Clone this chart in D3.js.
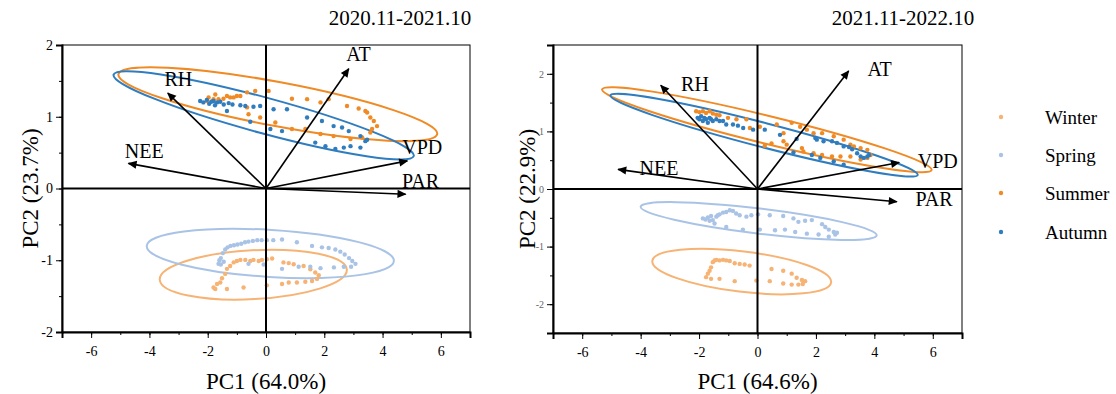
<!DOCTYPE html>
<html><head><meta charset="utf-8">
<script src="https://cdn.jsdelivr.net/npm/d3@7"></script>
<style>body{margin:0;background:#fff}svg{display:block}text{font-family:"Liberation Serif","Times New Roman",serif}</style>
</head><body><svg id="c" width="1116" height="394"></svg>
<script>
const seasons = ["Winter","Spring","Summer","Autumn"];
const seasonColors = ["#f6b374","#a9c3e6","#f08a24","#2f7dbf"];
const variables = ["NEE","RH","AT","VPD","PAR"];
const titles = ["2020.11-2021.10","2021.11-2022.10"];
const xLabels = ["PC1 (64.0%)","PC1 (64.6%)"];
const yLabels = ["PC2 (23.7%)","PC2 (22.9%)"];
const xTicks = [-6,-4,-2,0,2,4,6];
const yTicks1 = [-2,-1,0,1,2];
const yTicks2 = [-2,-1,0,1,2];

// loadings (arrow ends) and label anchor positions
const load1X = [-4.72,-3.37,2.84,4.85,4.79];
const load1Y = [0.35,1.33,1.67,0.385,-0.08];
const lab1X = [-4.18,-3.01,3.17,5.36,5.30];
const lab1Y = [0.52,1.52,1.87,0.575,0.10];
const load2X = [-4.77,-3.31,3.12,4.85,4.77];
const load2Y = [0.34,1.80,2.05,0.46,-0.22];
const lab2X = [-3.37,-2.14,4.18,6.17,6.04];
const lab2Y = [0.37,1.82,2.08,0.49,-0.18];

// scores, panel 1
const winter1 = [[-1.80,-1.38],[-1.74,-1.40],[-1.68,-1.33],[-1.57,-1.31],[-1.51,-1.25],[-1.40,-1.19],[-1.34,-1.12],[-1.23,-1.08],[-1.11,-1.03],[-1.00,-1.01],[-0.88,-0.995],[-0.71,-0.995],[-0.54,-1.01],[-0.43,-0.995],[-0.25,-1.01],[-0.14,-0.995],[0.03,-0.985],[0.21,-0.975],[0.60,-1.03],[0.78,-1.04],[0.95,-1.055],[1.29,-1.08],[1.52,-1.125],[1.69,-1.17],[1.81,-1.21],[1.75,-1.26],[1.58,-1.29],[1.35,-1.30],[1.06,-1.31],[0.78,-1.31],[0.55,-1.33],[0.03,-1.35],[-0.77,-1.38],[-1.34,-1.40]];
const spring1 = [[-1.63,-1.05],[-1.60,-1.00],[-1.55,-0.97],[-1.48,-0.90],[-1.40,-0.85],[-1.32,-0.82],[-1.22,-0.80],[-1.10,-0.79],[-0.98,-0.78],[-0.85,-0.77],[-0.72,-0.75],[-0.60,-0.74],[-0.45,-0.73],[-0.30,-0.72],[-0.15,-0.72],[0.03,-0.72],[0.25,-0.72],[0.55,-0.71],[1.06,-0.75],[1.58,-0.80],[1.92,-0.82],[2.15,-0.83],[2.38,-0.85],[2.55,-0.88],[2.70,-0.92],[2.85,-0.97],[2.96,-1.01],[3.07,-1.05],[2.92,-1.09],[2.67,-1.09],[2.33,-1.10],[1.87,-1.11],[1.52,-1.09],[1.12,-1.09],[0.55,-1.12],[-0.08,-1.06],[-0.60,-1.05],[-1.55,-1.06],[-1.45,-1.02]];
const summer1 = [[-2.03,1.22],[-1.97,1.27],[-1.80,1.245],[-1.74,1.31],[-1.63,1.245],[-1.46,1.25],[-1.34,1.29],[-1.23,1.27],[-1.11,1.27],[-1.00,1.29],[-0.88,1.29],[-0.65,1.34],[-0.37,1.36],[0.09,1.36],[0.89,1.25],[1.41,1.245],[2.15,1.245],[2.78,1.15],[3.18,1.115],[3.41,1.08],[3.47,1.06],[3.58,0.99],[3.70,0.94],[3.81,0.87],[3.64,0.83],[3.58,0.78],[3.30,0.71],[2.90,0.69],[2.32,0.73],[1.87,0.76],[1.35,0.83],[0.89,0.83],[0.32,0.92],[-0.60,1.035],[-0.65,1.13],[-0.20,0.99],[1.87,1.20]];
const autumn1 = [[-2.26,1.22],[-2.15,1.20],[-2.03,1.235],[-1.95,1.18],[-1.88,1.21],[-1.80,1.22],[-1.75,1.16],[-1.68,1.20],[-1.57,1.21],[-1.45,1.17],[-1.28,1.19],[-1.15,1.17],[-0.88,1.16],[-0.71,1.15],[-0.43,1.14],[-0.20,1.15],[-1.34,1.08],[-0.54,0.93],[0.26,1.105],[0.15,0.83],[0.55,0.80],[0.72,1.105],[1.41,0.99],[1.69,0.64],[1.92,0.94],[2.32,0.87],[2.61,0.85],[2.84,0.80],[3.24,0.73],[3.41,0.66],[3.47,0.68],[3.24,0.57],[2.90,0.59],[2.67,0.57],[2.38,0.55],[2.04,0.59]];

// scores, panel 2
const winter2 = [[-1.76,-1.53],[-1.70,-1.47],[-1.64,-1.42],[-1.59,-1.36],[-1.53,-1.27],[-1.47,-1.24],[-1.41,-1.23],[-1.30,-1.24],[-1.18,-1.23],[-1.07,-1.24],[-0.95,-1.25],[-0.78,-1.29],[-0.61,-1.30],[-0.44,-1.31],[-0.27,-1.33],[0.48,-1.39],[0.88,-1.42],[1.17,-1.47],[1.34,-1.54],[1.52,-1.58],[1.63,-1.60],[1.55,-1.65],[1.40,-1.66],[1.17,-1.66],[0.88,-1.64],[0.42,-1.60],[-0.04,-1.59],[-0.78,-1.60],[-1.30,-1.56],[-1.59,-1.56]];
const spring2 = [[-1.87,-0.51],[-1.78,-0.53],[-1.70,-0.495],[-1.64,-0.55],[-1.59,-0.47],[-1.53,-0.54],[-1.47,-0.60],[-1.41,-0.48],[-1.36,-0.455],[-1.30,-0.44],[-1.18,-0.41],[-1.07,-0.40],[-0.95,-0.37],[-0.84,-0.38],[-0.73,-0.425],[-0.61,-0.455],[-0.38,-0.48],[-0.21,-0.455],[0.02,-0.44],[0.42,-0.455],[0.88,-0.47],[1.23,-0.51],[1.40,-0.57],[1.63,-0.55],[1.86,-0.54],[2.21,-0.61],[2.32,-0.66],[2.44,-0.705],[2.61,-0.746],[2.72,-0.76],[2.66,-0.79],[2.44,-0.83],[2.09,-0.79],[1.69,-0.775],[1.29,-0.746],[0.94,-0.705],[0.60,-0.717],[0.08,-0.705],[-0.50,-0.705],[-1.07,-0.66]];
const summer2 = [[-2.10,1.35],[-1.99,1.335],[-1.87,1.35],[-1.76,1.32],[-1.64,1.35],[-1.53,1.31],[-1.41,1.29],[-1.30,1.28],[-1.01,1.235],[-0.72,1.21],[-0.38,1.21],[-0.26,1.06],[0.08,1.08],[0.66,1.12],[0.89,0.97],[0.89,0.83],[1.17,1.15],[1.46,1.08],[1.69,1.03],[1.92,0.97],[2.21,0.97],[2.61,0.915],[2.95,0.857],[3.18,0.77],[3.30,0.74],[3.53,0.71],[3.76,0.68],[3.87,0.59],[3.76,0.54],[3.53,0.51],[3.18,0.565],[2.84,0.565],[2.55,0.565],[2.21,0.59],[1.92,0.62],[1.57,0.65],[1.52,0.71],[1.00,0.77],[0.48,0.79],[0.25,0.75]];
const autumn2 = [[-2.05,1.235],[-1.99,1.21],[-1.93,1.265],[-1.87,1.18],[-1.82,1.235],[-1.76,1.21],[-1.70,1.15],[-1.64,1.235],[-1.59,1.21],[-1.53,1.18],[-1.41,1.21],[-1.30,1.18],[-1.18,1.18],[-1.07,1.12],[-0.84,1.12],[-0.67,1.10],[-0.49,1.06],[-0.15,1.03],[0.25,1.03],[0.77,0.94],[1.34,0.87],[1.98,0.885],[2.03,0.857],[2.26,0.83],[2.55,0.83],[2.72,0.80],[2.95,0.74],[3.13,0.73],[3.24,0.69],[3.41,0.62],[3.53,0.565],[3.64,0.54],[3.76,0.565],[3.82,0.59],[2.95,0.42],[2.61,0.48],[2.15,0.54],[1.86,0.59],[1.23,0.635]];

// confidence ellipses: [centerX, centerY, majorEndDX, majorEndDY, minorHalfWidthY]
const ell1 = [[-0.436,-1.201,3.21,0.07,0.341],[0.148,-0.905,4.24,-0.105,0.328],[0.405,1.175,5.47,-0.418,0.307],[-0.08,1.02,5.15,-0.567,0.248]];
const ell2 = [[-0.54,-1.434,3.06,-0.187,0.35],[0.04,-0.556,4.04,-0.248,0.217],[0.32,1.03,5.64,-0.70,0.241],[0.224,0.935,5.26,-0.69,0.21]];

const svg = d3.select("#c");
const defs = svg.append("defs");
defs.append("marker").attr("id","ah").attr("viewBox","0 0 10 10").attr("refX",9).attr("refY",5)
  .attr("markerWidth",11).attr("markerHeight",9).attr("markerUnits","userSpaceOnUse").attr("orient","auto")
  .append("path").attr("d","M0,0.5 L10,5 L0,9.5 Z").attr("fill","#000");

const fmt = d => String(d);
const panels = [
  {x0:62,x1:470,y0:45,y1:332,yDom:[-2,2],yTicks:yTicks1,yMinor:d3.range(-2,2.01,0.5),ytFont:14,ytColor:"#000",
   scores:[winter1,spring1,summer1,autumn1],ell:ell1,lx:load1X,ly:load1Y,tx:lab1X,ty:lab1Y,title:titles[0],titleX:400,xl:xLabels[0],yl:yLabels[0],ylX:30},
  {x0:553,x1:962,y0:45,y1:333,yDom:[-2.5,2.5],yTicks:yTicks2,yMinor:d3.range(-2.5,2.51,0.5),ytFont:10,ytColor:"#666",
   scores:[winter2,spring2,summer2,autumn2],ell:ell2,lx:load2X,ly:load2Y,tx:lab2X,ty:lab2Y,title:titles[1],titleX:903,xl:xLabels[1],yl:yLabels[1],ylX:527}
];

panels.forEach(p=>{
  const sx = d3.scaleLinear().domain([-7,7]).range([p.x0,p.x1]);
  const sy = d3.scaleLinear().domain(p.yDom).range([p.y1,p.y0]);
  const g = svg.append("g");
  const uy = Math.abs(sy(1)-sy(0));

  // ellipses
  p.ell.forEach((e,i)=>{
    const cx=sx(e[0]), cy=sy(e[1]);
    const exx=sx(e[0]+e[2]), eyy=sy(e[1]+e[3]);
    const a=Math.hypot(exx-cx,eyy-cy), ang=Math.atan2(eyy-cy,exx-cx)*180/Math.PI;
    const b=e[4]*uy;
    g.append("ellipse").attr("cx",0).attr("cy",0).attr("rx",a).attr("ry",b)
      .attr("transform",`translate(${cx},${cy}) rotate(${ang})`)
      .attr("fill","none").attr("stroke",seasonColors[i]).attr("stroke-width",2);
  });
  // points
  p.scores.forEach((pts,i)=>{
    g.selectAll(null).data(pts).enter().append("circle")
      .attr("cx",d=>sx(d[0])).attr("cy",d=>sy(d[1])).attr("r",2.2).attr("fill",seasonColors[i]);
  });
  // zero lines
  g.append("line").attr("x1",sx(0)).attr("x2",sx(0)).attr("y1",p.y0).attr("y2",p.y1).attr("stroke","#000").attr("stroke-width",2);
  g.append("line").attr("x1",p.x0).attr("x2",p.x1).attr("y1",sy(0)).attr("y2",sy(0)).attr("stroke","#000").attr("stroke-width",2);
  // arrows
  variables.forEach((v,i)=>{
    g.append("line").attr("x1",sx(0)).attr("y1",sy(0)).attr("x2",sx(p.lx[i])).attr("y2",sy(p.ly[i]))
      .attr("stroke","#000").attr("stroke-width",1.6).attr("marker-end","url(#ah)");
    g.append("text").attr("x",sx(p.tx[i])).attr("y",sy(p.ty[i])).attr("text-anchor","middle").attr("dy","0.35em")
      .attr("font-size",20).text(v);
  });
  // frame
  g.append("rect").attr("x",p.x0).attr("y",p.y0).attr("width",p.x1-p.x0).attr("height",p.y1-p.y0)
    .attr("fill","none").attr("stroke","#000").attr("stroke-width",1);
  // axes
  const xa = g.append("g").attr("transform",`translate(0,${p.y1})`)
    .call(d3.axisBottom(sx).tickValues(xTicks).tickSize(6).tickFormat(fmt));
  xa.call(s=>s.select(".domain").attr("stroke-width",2));
  xa.selectAll("text").attr("font-size",14).attr("font-family","Liberation Serif").attr("dy","1.1em");
  g.append("g").attr("transform",`translate(0,${p.y1})`)
    .call(d3.axisBottom(sx).tickValues(d3.range(-7,7.01,1)).tickSize(3).tickFormat(""))
    .call(s=>s.select(".domain").remove());
  const ya = g.append("g").attr("transform",`translate(${p.x0},0)`)
    .call(d3.axisLeft(sy).tickValues(p.yTicks).tickSize(6).tickFormat(fmt));
  ya.call(s=>s.select(".domain").attr("stroke-width",2));
  ya.selectAll("text").attr("font-size",p.ytFont).attr("font-family","Liberation Serif").attr("fill",p.ytColor);
  g.append("g").attr("transform",`translate(${p.x0},0)`)
    .call(d3.axisLeft(sy).tickValues(p.yMinor).tickSize(3).tickFormat(""))
    .call(s=>s.select(".domain").remove());
  // labels
  svg.append("text").attr("x",p.titleX).attr("y",25).attr("text-anchor","middle").attr("font-size",21).text(p.title);
  svg.append("text").attr("x",(p.x0+p.x1)/2).attr("y",389).attr("text-anchor","middle").attr("font-size",23).text(p.xl);
  svg.append("text").attr("transform",`translate(${p.ylX},${(p.y0+p.y1)/2}) rotate(-90)`).attr("text-anchor","middle")
    .attr("dy","0.35em").attr("font-size",23).text(p.yl);
});

// legend
const leg = svg.append("g");
seasons.forEach((s,i)=>{
  const y = [117,155,193,232][i];
  leg.append("circle").attr("cx",1001).attr("cy",y).attr("r",2.2).attr("fill",seasonColors[i]);
  leg.append("text").attr("x",1045).attr("y",y).attr("dy","0.35em").attr("font-size",19).text(s);
});
</script></body></html>
